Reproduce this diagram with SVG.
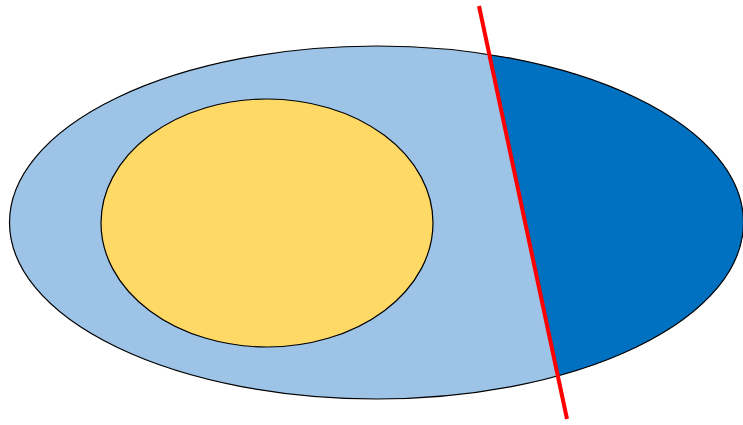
<svg xmlns="http://www.w3.org/2000/svg" width="743" height="425" viewBox="0 0 743 425">
<defs>
<clipPath id="rightSide"><polygon points="470,-40 800,-40 800,470 577,470"/></clipPath>
<style>.outline{stroke:#000;stroke-width:1.2}</style>
</defs>
<rect width="743" height="425" fill="#fff"/>
<g id="outer">
<ellipse cx="376.5" cy="222.5" rx="367" ry="176.5" fill="#9DC3E6"/>
<ellipse cx="376.5" cy="222.5" rx="367" ry="176.5" fill="#0070C0" clip-path="url(#rightSide)"/>
<ellipse cx="376.5" cy="222.5" rx="367" ry="176.5" fill="none" class="outline"/>
</g>
<g id="inner">
<ellipse cx="267" cy="223" rx="166" ry="124" fill="#FFD966" class="outline"/>
</g>
<g id="connectors">
<line x1="479" y1="6" x2="567" y2="419" stroke="#FF0000" stroke-width="4"/>
</g>
</svg>
